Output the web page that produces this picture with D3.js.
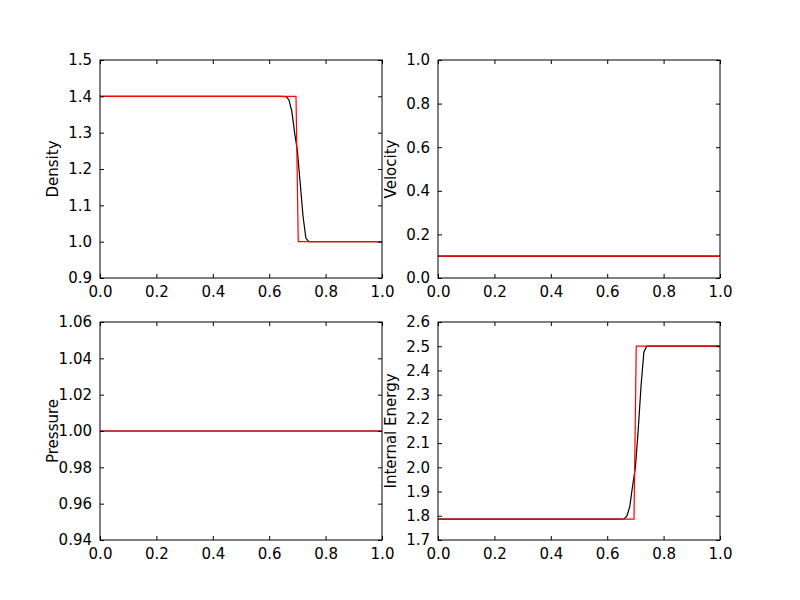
<!DOCTYPE html>
<html><head><meta charset="utf-8">
<script src="https://cdn.jsdelivr.net/npm/d3@7"></script>
<style>body{margin:0;background:#fff}svg{font-family:"DejaVu Sans",sans-serif}</style>
</head><body><svg id="c" width="800" height="600"></svg>
<script>
// numerical solution (black) and exact solution (red)
var xNum = [0, 0.64, 0.66, 0.67, 0.68, 0.69, 0.70, 0.71, 0.72, 0.73, 0.74, 1.0];
var rhoNum = [1.4, 1.4, 1.399, 1.39, 1.36, 1.30, 1.25, 1.16, 1.07, 1.01, 1.0, 1.0];
var eNum = [1.786, 1.786, 1.787, 1.799, 1.838, 1.923, 2.0, 2.155, 2.336, 2.475, 2.5, 2.5];
var xEx = [0, 0.695, 0.703, 1.0];
var rhoEx = [1.4, 1.4, 1.0, 1.0];
var eEx = [1.786, 1.786, 2.5, 2.5];
var velNum = [0.1, 0.1], velEx = [0.1, 0.1], xFlat = [0, 1];
var presNum = [1.0, 1.0], presEx = [1.0, 1.0];

var panels = [
  {label:"Density", x0:100, y0:60, dom:[0.9,1.5], step:0.1, fmt:".1f",
   series:[[xNum,rhoNum,"#000"],[xEx,rhoEx,"red"]]},
  {label:"Velocity", x0:438, y0:60, dom:[0,1], step:0.2, fmt:".1f",
   series:[[xFlat,velNum,"#000"],[xFlat,velEx,"red"]]},
  {label:"Pressure", x0:100, y0:322, dom:[0.94,1.06], step:0.02, fmt:".2f",
   series:[[xFlat,presNum,"#000"],[xFlat,presEx,"red"]]},
  {label:"Internal Energy", x0:438, y0:322, dom:[1.7,2.6], step:0.1, fmt:".1f",
   series:[[xNum,eNum,"#000"],[xEx,eEx,"red"]]}
];
var W = 282, H = 218;
var svg = d3.select("#c");

panels.forEach(function(p){
  var g = svg.append("g").attr("transform","translate("+p.x0+","+p.y0+")");
  var x = d3.scaleLinear().domain([0,1]).range([0,W]);
  var y = d3.scaleLinear().domain(p.dom).range([H,0]);
  var yt = d3.range(0, Math.round((p.dom[1]-p.dom[0])/p.step)+1).map(function(i){return p.dom[0]+i*p.step;});
  var xt = [0,0.2,0.4,0.6,0.8,1.0];
  var line = d3.line().x(function(d){return x(d[0]);}).y(function(d){return y(d[1]);});
  p.series.forEach(function(s){
    g.append("path").datum(s[0].map(function(v,i){return [v,s[1][i]];}))
      .attr("d",line).attr("fill","none").attr("stroke",s[2]).attr("stroke-width",1.2);
  });
  function ax(a, t){ a.call(function(sel){ sel.select(".domain").remove(); sel.selectAll("text").attr("fill","#000"); sel.selectAll("line").attr("stroke","#000"); }); }
  g.append("g").attr("transform","translate(0,"+H+")")
    .call(d3.axisBottom(x).tickValues(xt).tickFormat(d3.format(".1f")).tickSizeInner(-4).tickPadding(8))
    .attr("font-size",15).attr("font-family","DejaVu Sans").call(ax);
  g.append("g").call(d3.axisTop(x).tickValues(xt).tickFormat("").tickSizeInner(-4)).call(ax);
  g.append("g")
    .call(d3.axisLeft(y).tickValues(yt).tickFormat(d3.format(p.fmt)).tickSizeInner(-4).tickPadding(8))
    .attr("font-size",15).attr("font-family","DejaVu Sans").call(ax);
  g.append("g").attr("transform","translate("+W+",0)").call(d3.axisRight(y).tickValues(yt).tickFormat("").tickSizeInner(-4)).call(ax);
  g.append("rect").attr("width",W).attr("height",H).attr("fill","none").attr("stroke","#000");
  g.append("text").attr("transform","translate("+(p.x0<200?-42:-42)+","+(H/2)+") rotate(-90)")
    .attr("text-anchor","middle").attr("font-size",15).text(p.label);
});
</script></body></html>
